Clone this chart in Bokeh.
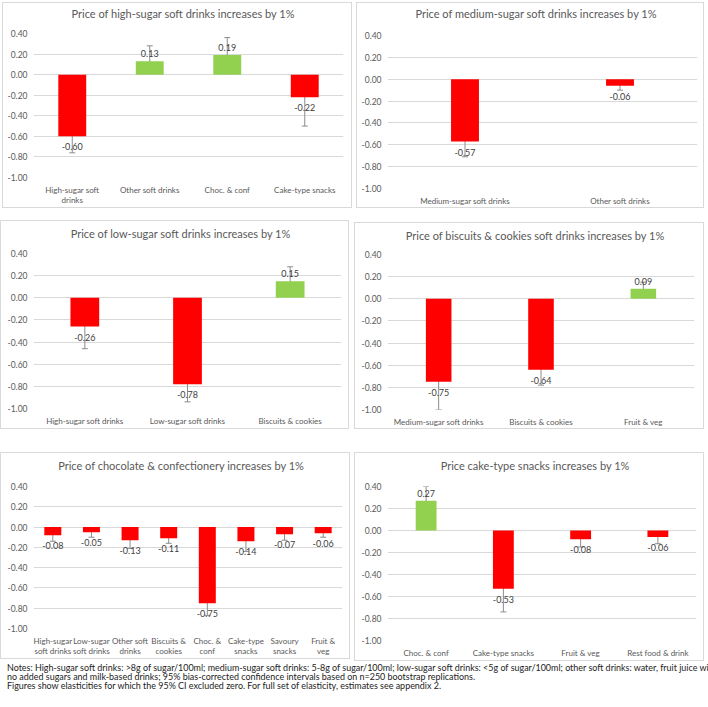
from bokeh.plotting import figure
from bokeh.models import (ColumnDataSource, Whisker, TeeHead, FixedTicker,
                          NumeralTickFormatter, Range1d, Div, LinearAxis)
from bokeh.core.properties import value
from bokeh.embed import file_html
from bokeh.resources import INLINE

FONT = "Lato"
RED = "#ff0000"
GREEN = "#92d050"
GREY = "#595959"

y_ticks = [-1.0, -0.8, -0.6, -0.4, -0.2, 0.0, 0.2, 0.4]

# Panel 1
title1 = "Price of high-sugar soft drinks increases by 1%"
cats1 = ["High-sugar soft drinks", "Other soft drinks", "Choc. & conf", "Cake-type snacks"]
vals1 = [-0.60, 0.13, 0.19, -0.22]
lo1 = [-0.76, 0.02, 0.01, -0.50]
hi1 = [-0.39, 0.28, 0.36, -0.01]

# Panel 2
title2 = "Price of medium-sugar soft drinks increases by 1%"
cats2 = ["Medium-sugar soft drinks", "Other soft drinks"]
vals2 = [-0.57, -0.06]
lo2 = [-0.71, -0.10]
hi2 = [-0.33, -0.01]

# Panel 3
title3 = "Price of low-sugar soft drinks increases by 1%"
cats3 = ["High-sugar soft drinks", "Low-sugar soft drinks", "Biscuits & cookies"]
vals3 = [-0.26, -0.78, 0.15]
lo3 = [-0.46, -0.94, 0.03]
hi3 = [-0.07, -0.64, 0.28]

# Panel 4
title4 = "Price of biscuits & cookies soft drinks increases by 1%"
cats4 = ["Medium-sugar soft drinks", "Biscuits & cookies", "Fruit & veg"]
vals4 = [-0.75, -0.64, 0.09]
lo4 = [-1.00, -0.78, 0.02]
hi4 = [-0.12, -0.50, 0.15]

# Panel 5
title5 = "Price of chocolate & confectionery increases by 1%"
cats5 = ["High-sugar soft drinks", "Low-sugar soft drinks", "Other soft drinks",
         "Biscuits & cookies", "Choc. & conf", "Cake-type snacks",
         "Savoury snacks", "Fruit & veg"]
vals5 = [-0.08, -0.05, -0.13, -0.11, -0.75, -0.14, -0.07, -0.06]
lo5 = [-0.14, -0.10, -0.21, -0.16, -0.87, -0.24, -0.13, -0.10]
hi5 = [-0.01, -0.01, -0.07, -0.04, -0.66, -0.04, -0.01, -0.03]

# Panel 6
title6 = "Price cake-type snacks increases by 1%"
cats6 = ["Choc. & conf", "Cake-type snacks", "Fruit & veg", "Rest food & drink"]
vals6 = [0.27, -0.53, -0.08, -0.06]
lo6 = [0.06, -0.74, -0.15, -0.12]
hi6 = [0.40, -0.25, -0.01, -0.01]

# wrapped category labels (line 1, line 2)
wrap1 = {"High-sugar soft drinks": ("High-sugar soft", "drinks")}
wrap5 = {"High-sugar soft drinks": ("High-sugar", "soft drinks"),
         "Low-sugar soft drinks": ("Low-sugar", "soft drinks"),
         "Other soft drinks": ("Other soft", "drinks"),
         "Biscuits & cookies": ("Biscuits &", "cookies"),
         "Choc. & conf": ("Choc. &", "conf"),
         "Cake-type snacks": ("Cake-type", "snacks"),
         "Savoury snacks": ("Savoury", "snacks"),
         "Fruit & veg": ("Fruit &", "veg")}


def style_axis(ax, size):
    ax.axis_line_color = None
    ax.major_tick_line_color = None
    ax.minor_tick_line_color = None
    ax.major_tick_out = 0
    ax.major_tick_in = 0
    ax.minor_tick_out = 0
    ax.minor_tick_in = 0
    ax.major_label_text_font = FONT
    ax.major_label_text_font_size = size
    ax.major_label_text_color = GREY


def panel(cats, vals, lo, hi, left, top, w, h, bw, mt, mb, ml, mr, wrap=None):
    n = len(cats)
    xs = list(range(n))
    p = figure(x_range=Range1d(-0.5, n - 0.5), y_range=Range1d(-1.0, 0.4),
               width=w, height=h, output_backend="svg", toolbar_location=None,
               min_border_top=mt, min_border_bottom=mb,
               min_border_left=ml, min_border_right=mr)
    p.outline_line_color = None
    p.xgrid.grid_line_color = None
    p.ygrid.grid_line_color = "#d9d9d9"
    p.ygrid.grid_line_width = 1
    p.yaxis.ticker = FixedTicker(ticks=y_ticks)
    p.yaxis.formatter = NumeralTickFormatter(format="0.00")
    style_axis(p.yaxis[0], "8.5px")
    p.yaxis.major_label_standoff = 6

    wrap = wrap or {}
    xa = p.xaxis[0]
    xa.ticker = FixedTicker(ticks=xs)
    xa.major_label_overrides = {i: (wrap[c][0] if c in wrap else c) for i, c in zip(xs, cats)}
    style_axis(xa, "8px")
    xa.major_label_standoff = 7
    if wrap:
        ax2 = LinearAxis(ticker=FixedTicker(ticks=xs),
                         major_label_overrides={i: (wrap[c][1] if c in wrap else " ")
                                                for i, c in zip(xs, cats)},
                         major_label_standoff=-3)
        style_axis(ax2, "8px")
        p.add_layout(ax2, "below")

    colors = [GREEN if v > 0 else RED for v in vals]
    src = ColumnDataSource(dict(x=xs, val=vals, lo=lo, hi=hi, color=colors))
    p.vbar(x="x", top="val", bottom=0, width=bw, fill_color="color",
           line_color=None, source=src)
    wh = Whisker(base="x", upper="hi", lower="lo", source=src,
                 line_color="#8c8c8c", line_width=1,
                 upper_head=TeeHead(size=6, line_color="#8c8c8c", line_width=1),
                 lower_head=TeeHead(size=6, line_color="#8c8c8c", line_width=1))
    p.add_layout(wh)

    neg = [i for i, v in enumerate(vals) if v < 0]
    pos = [i for i, v in enumerate(vals) if v >= 0]
    for idx, base, off in ((neg, "top", 7), (pos, "bottom", -4)):
        if not idx:
            continue
        s = ColumnDataSource(dict(x=[xs[i] for i in idx],
                                  val=[vals[i] for i in idx],
                                  lab=["%.2f" % vals[i] for i in idx]))
        p.text(x="x", y="val", text="lab", source=s, text_align="center",
               text_baseline=base, y_offset=off, text_font=value(FONT),
               text_font_size="9px", text_color="#404040")
    p.styles = {"border": "1px solid #d9d9d9", "position": "absolute",
                "left": "%dpx" % left, "top": "%dpx" % top}
    return p


def title_div(text, left, top, w):
    return Div(text=text, width=w, height=15,
               styles={"font-family": FONT, "font-size": "11px", "line-height": "13px",
                       "color": GREY, "text-align": "center", "white-space": "nowrap",
                       "position": "absolute", "left": "%dpx" % left, "top": "%dpx" % top})


#         data .................   left top  w    h   bar  mt  mb  ml  mr
p1 = panel(cats1, vals1, lo1, hi1, 2, 2, 350, 206, 0.36, 30, 32, 30, 10, wrap1)
p2 = panel(cats2, vals2, lo2, hi2, 356, 2, 348, 206, 0.18, 32, 21, 30, 8)
p3 = panel(cats3, vals3, lo3, hi3, 0, 220, 349, 209, 0.28, 32, 22, 32, 9)
p4 = panel(cats4, vals4, lo4, hi4, 354, 222, 350, 207, 0.25, 31, 21, 32, 11)
p5 = panel(cats5, vals5, lo5, hi5, 0, 452, 350, 207, 0.44, 33, 32, 32, 9, wrap5)
p6 = panel(cats6, vals6, lo6, hi6, 354, 452, 350, 209, 0.27, 33, 22, 32, 9)

t1 = title_div(title1, 2, 2, 352)
t2 = title_div(title2, 356, 2, 350)
t3 = title_div(title3, 0, 222, 351)
t4 = title_div(title4, 354, 224, 352)
t5 = title_div(title5, 0, 454, 352)
t6 = title_div(title6, 354, 454, 352)

notes = Div(
    text=("Notes: High-sugar soft drinks: &gt;8g of sugar/100ml; medium-sugar soft drinks: "
          "5-8g of sugar/100ml; low-sugar soft drinks: &lt;5g of sugar/100ml; other soft drinks: "
          "water, fruit juice with<br>no added sugars and milk-based drinks; 95% bias-corrected "
          "confidence intervals based on n=250 bootstrap replications.<br>Figures show "
          "elasticities for which the 95% CI excluded zero. For full set of elasticity, "
          "estimates see appendix 2."),
    width=706, height=30,
    styles={"font-family": FONT, "font-size": "8.95px", "line-height": "9px",
            "color": "#222222", "white-space": "nowrap", "overflow": "hidden",
            "position": "absolute", "left": "2px", "top": "658px"})

open("out.html", "w").write(file_html([p1, p2, p3, p4, p5, p6,
                                       t1, t2, t3, t4, t5, t6, notes], INLINE))
